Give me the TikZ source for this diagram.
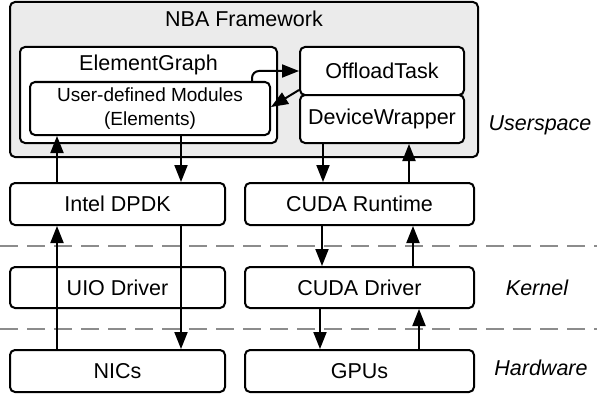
\documentclass[tikz,border=0pt]{standalone}
\usepackage{fontspec}
\setmainfont{Liberation Sans}
\usetikzlibrary{arrows.meta}
\begin{document}
\begin{tikzpicture}[x=1pt,y=-1pt,
  box/.style={draw, line width=2pt, rounded corners=5pt, fill=white, inner sep=0pt,
    font=\fontsize{21.5}{24}\selectfont},
  lbl/.style={inner sep=0pt, font=\fontsize{21.5}{24}\selectfont},
  layer/.style={inner sep=0pt, font=\fontsize{21.5}{24}\selectfont\itshape},
  arr/.style={line width=2pt, -{Triangle[length=17pt,width=13pt]}},
  sep/.style={draw=black!45, line width=1.5pt, dash pattern=on 18pt off 9pt}]
\useasboundingbox (0,0) rectangle (597,396);
% framework
\node[box, fill=black!8, minimum width=468pt, minimum height=155pt] (nba) at (244,79.5) {};
\node[lbl] (nbat) at (244,19) {NBA Framework};
\node[box, minimum width=257pt, minimum height=96pt] (eg) at (148.5,95) {};
\node[lbl] (egt) at (148.5,65) {ElementGraph};
\node[box, minimum width=240pt, minimum height=53pt, align=center,
  font=\fontsize{19}{24}\selectfont] (udm) at (150,108.5) {User-defined Modules\\(Elements)};
\node[box, minimum width=164pt, minimum height=48pt] (ot) at (382,71) {OffloadTask};
\node[box, minimum width=164pt, minimum height=48pt] (dw) at (382,119) {DeviceWrapper};
% lower boxes
\node[box, minimum width=215pt, minimum height=42pt] (dpdk) at (117.5,204) {Intel DPDK};
\node[box, minimum width=229pt, minimum height=42pt] (rt) at (359.5,204) {CUDA Runtime};
\node[box, minimum width=215pt, minimum height=41pt] (uio) at (117.5,287.5) {UIO Driver};
\node[box, minimum width=229pt, minimum height=41pt] (drv) at (359.5,287.5) {CUDA Driver};
\node[box, minimum width=215pt, minimum height=42pt] (nic) at (117.5,371) {NICs};
\node[box, minimum width=229pt, minimum height=42pt] (gpu) at (359.5,371) {GPUs};
% separators
\coordinate (s1a) at (0,246); \coordinate (s1b) at (597,246);
\coordinate (s2a) at (0,329); \coordinate (s2b) at (597,329);
\draw[sep] (s1a) -- (s1b);
\draw[sep] (s2a) -- (s2b);
% layer labels
\node[layer] (us) at (540,125) {Userspace};
\node[layer] (kn) at (537,288) {Kernel};
\node[layer] (hw) at (541,368) {Hardware};
% arrows left
\draw[arr] (nic.north -| 57,0) -- (dpdk.south -| 57,0);
\draw[arr] (dpdk.north -| 57,0) -- (udm.south -| 57,0);
\draw[arr] (udm.south -| 181,0) -- (dpdk.north -| 181,0);
\draw[arr] (dpdk.south -| 181,0) -- (nic.north -| 181,0);
% arrows right
\draw[arr] (dw.south -| 323,0) -- (rt.north -| 323,0);
\draw[arr] (rt.north -| 409,0) -- (dw.south -| 409,0);
\draw[arr] (rt.south -| 322,0) -- (drv.north -| 322,0);
\draw[arr] (drv.north -| 413,0) -- (rt.south -| 413,0);
\draw[arr] (drv.south -| 320,0) -- (gpu.north -| 320,0);
\draw[arr] (gpu.north -| 419,0) -- (drv.south -| 419,0);
% offload arrows
\draw[arr, rounded corners=7pt] (udm.north -| 252,0) |- (ot.west |- 0,71);
\draw[arr] (ot.west |- 0,90) -- (udm.east |- 0,107);
\end{tikzpicture}
\end{document}
